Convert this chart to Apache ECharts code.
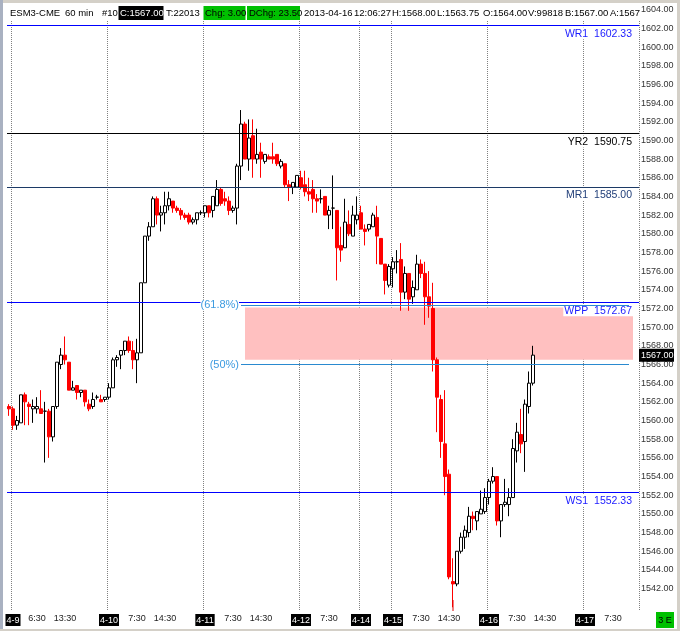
<!DOCTYPE html>
<html><head><meta charset="utf-8">
<script src="https://cdn.jsdelivr.net/npm/echarts@6/dist/echarts.min.js"></script>
<style>html,body{margin:0;padding:0;background:#fff}#c{width:680px;height:631px}</style>
</head><body><div id="c"></div>
<script>
// ---- data ----
const sessions = [['4-8',23,1],['4-9',0,24],['4-10',0,24],['4-11',0,24],['4-12',0,15],['4-14',16,8],['4-15',0,24],['4-16',0,24],['4-17',0,14]];
const openP = [1561.5,1561.25,1559.5,1559.75,1562.75,1561.75,1561.25,1561.25,1561.25,1561.0,
1561.0,1558.25,1561.5,1566.0,1567.0,1566.25,1563.25,1563.75,1563.0,1563.25,
1561.75,1561.5,1562.5,1562.25,1562.25,1562.5,1563.5,1566.5,1567.0,1567.5,
1568.5,1567.5,1566.5,1567.25,1574.75,1579.75,1580.75,1583.75,1582.0,1582.25,
1583.0,1583.5,1582.75,1582.5,1582.0,1582.0,1581.25,1581.5,1582.25,1582.25,
1583.0,1582.5,1583.0,1584.75,1583.75,1583.5,1582.5,1582.75,1587.25,1591.75,
1588.0,1590.5,1588.0,1588.75,1587.75,1588.25,1588.25,1588.5,1587.25,1587.5,
1585.25,1585.0,1585.0,1586.0,1585.25,1584.5,1584.75,1583.75,1583.75,1584.0,
1582.0,1582.75,1582.5,1578.75,1578.5,1581.0,1579.75,1581.5,1582.25,1580.5,
1580.5,1580.75,1581.75,1579.5,1576.75,1574.5,1576.25,1577.0,1577.25,1573.75,
1575.75,1573.25,1574.0,1576.75,1575.75,1573.25,1572.0,1566.5,1562.25,1557.5,
1554.25,1542.75,1542.5,1546.0,1547.5,1548.0,1549.75,1549.25,1550.0,1550.25,
1551.75,1553.5,1554.0,1549.25,1551.0,1551.0,1551.75,1556.75,1558.5,1557.75,
1561.5,1564.0];
const closeP = [1561.25,1559.5,1560.0,1562.75,1562.0,1561.5,1561.5,1561.5,1560.75,1561.0,
1558.25,1561.5,1566.25,1567.0,1566.5,1563.25,1563.5,1563.0,1563.25,1562.0,
1561.25,1562.25,1562.5,1562.0,1562.5,1563.5,1566.5,1566.75,1567.5,1568.5,
1567.5,1566.5,1567.25,1574.75,1579.75,1580.75,1583.75,1582.0,1582.25,1583.0,
1583.75,1582.75,1582.5,1582.0,1581.75,1581.25,1581.5,1582.25,1582.25,1583.0,
1582.25,1584.0,1584.75,1583.25,1583.5,1582.5,1582.75,1587.25,1591.75,1588.0,
1590.25,1588.0,1588.5,1588.0,1588.5,1588.0,1588.0,1587.5,1587.75,1585.25,
1585.0,1585.5,1586.25,1585.0,1584.5,1584.25,1583.75,1583.5,1583.75,1582.0,
1582.5,1582.75,1578.5,1578.25,1581.25,1580.0,1582.0,1582.0,1580.5,1580.25,
1581.0,1582.0,1579.75,1576.75,1575.0,1576.5,1577.0,1577.0,1573.75,1575.75,
1573.0,1574.25,1576.75,1575.75,1573.25,1572.25,1566.5,1562.5,1557.75,1554.0,
1543.25,1542.5,1546.0,1547.5,1548.25,1549.75,1549.5,1550.25,1550.5,1551.75,
1553.5,1554.0,1549.25,1551.0,1551.25,1551.75,1557.0,1558.75,1557.5,1561.75,
1564.0,1567.0];
const lowP = [1560.5,1559.0,1559.0,1559.75,1559.5,1559.5,1559.75,1560.75,1560.75,1555.5,
1556.0,1557.75,1561.25,1565.5,1566.0,1563.25,1563.25,1562.25,1562.5,1561.5,
1561.0,1561.25,1562.25,1562.0,1562.0,1562.25,1563.5,1565.75,1565.5,1567.0,
1567.25,1565.5,1564.0,1567.25,1574.75,1579.25,1580.75,1581.0,1580.25,1581.0,
1582.5,1582.25,1582.25,1581.5,1581.5,1581.0,1581.0,1581.0,1582.0,1581.75,
1581.75,1581.75,1583.0,1583.0,1583.0,1582.0,1582.25,1581.0,1585.75,1588.0,
1586.75,1586.0,1587.5,1586.0,1587.5,1588.0,1587.5,1587.25,1587.0,1585.0,
1583.5,1584.25,1585.0,1584.75,1584.0,1583.5,1582.25,1582.25,1583.25,1582.0,
1580.5,1580.5,1575.0,1577.0,1578.5,1579.75,1579.75,1581.0,1580.5,1578.75,
1580.25,1580.75,1576.75,1576.75,1573.5,1574.25,1574.25,1575.75,1571.75,1573.0,
1571.75,1572.5,1574.0,1575.25,1570.25,1571.0,1565.25,1558.75,1556.0,1552.0,
1543.0,1540.0,1542.25,1545.75,1546.25,1547.5,1548.25,1548.25,1550.0,1550.0,
1551.0,1553.25,1548.75,1547.5,1550.75,1549.75,1551.75,1555.5,1556.5,1554.5,
1560.75,1563.75];
const highP = [1561.75,1561.5,1560.5,1562.75,1563.0,1562.0,1562.25,1562.5,1563.25,1562.0,
1561.25,1561.5,1566.25,1567.75,1569.0,1566.25,1564.25,1563.75,1563.25,1563.25,
1562.25,1563.0,1562.75,1562.75,1562.5,1564.0,1566.75,1567.0,1567.5,1568.5,
1569.0,1568.5,1568.75,1574.75,1579.75,1581.25,1584.0,1584.0,1583.0,1584.5,
1584.5,1583.5,1583.0,1582.75,1582.25,1582.25,1581.75,1582.25,1582.5,1583.0,
1583.0,1584.0,1585.75,1585.0,1584.5,1584.0,1583.0,1587.5,1593.25,1592.0,
1592.25,1592.25,1591.25,1589.75,1588.5,1588.5,1589.75,1588.5,1588.0,1587.5,
1585.75,1585.5,1586.25,1586.75,1586.75,1586.0,1585.75,1584.25,1584.75,1584.0,
1583.0,1586.25,1582.5,1580.75,1583.75,1582.5,1583.0,1584.0,1583.0,1581.0,
1581.0,1582.25,1583.0,1579.5,1576.75,1576.75,1577.5,1578.25,1579.0,1576.5,
1575.75,1575.0,1577.75,1577.25,1577.0,1576.0,1574.75,1566.75,1562.75,1563.25,
1554.75,1545.25,1546.0,1548.0,1548.75,1550.75,1550.25,1550.25,1552.5,1552.75,
1553.75,1555.0,1554.0,1551.0,1553.75,1552.75,1558.0,1559.75,1561.25,1562.25,
1565.25,1568.0];
const pivotNames = ['WR1','YR2','MR1','WPP','WS1'];
const pivotValues = [1602.33,1590.75,1585.00,1572.67,1552.33];
const fibLabels = ['(61.8%)','(50%)'];
const fibValues = [1572.35,1566.0];
const fibSpan = ['4-11 9:30','4-17 11:30'];
const zoneSpan = ['4-11 10:30','4-17 12:30'];
const zoneRange = [1566.5,1572.1];
const lastPrice = 1567.00;
const yTicks = [1542,1544,1546,1548,1550,1552,1554,1556,1558,1560,1562,1564,1566,1568,1570,1572,1574,1576,1578,1580,1582,1584,1586,1588,1590,1592,1594,1596,1598,1600,1602,1604];
const xTicks = [['4-9 0:30','4-9','d'],['4-9 6:30','6:30','t'],['4-9 13:30','13:30','t'],
['4-10 0:30','4-10','d'],['4-10 7:30','7:30','t'],['4-10 14:30','14:30','t'],
['4-11 0:30','4-11','d'],['4-11 7:30','7:30','t'],['4-11 14:30','14:30','t'],
['4-12 0:30','4-12','d'],['4-12 7:30','7:30','t'],['4-14 16:30','4-14','d'],
['4-15 0:30','4-15','d'],['4-15 7:30','7:30','t'],['4-15 14:30','14:30','t'],
['4-16 0:30','4-16','d'],['4-16 7:30','7:30','t'],['4-16 14:30','14:30','t'],
['4-17 0:30','4-17','d'],['4-17 7:30','7:30','t']];
const headerText = ['ESM3-CME','60 min','#10','C:1567.00','T:22013','Chg: 3.00','DChg: 23.50','2013-04-16','12:06:27','H:1568.00','L:1563.75','O:1564.00','V:99818','B:1567.00','A:1567'];
const cursorTime = '4-15 15:30';

// ---- styles / layout ----
const FONT = '"Liberation Sans", Arial, sans-serif';
const headerX = [10,65,102,120,166,205,249,304,354,392,437,483,528,565,610];
const headerBoxes = {3:[118.5,45,'#000','#fff'],5:[203.5,42,'#00c000','#000'],6:[247,53,'#00c000','#000']};
const pivotLineColors = ['#0000ff','#000000','#1c3a66','#0000ff','#0000ff'];
const pivotTextColors = ['#1a1aff','#000000','#23407a','#1a1aff','#1a1aff'];

const categories = [];
sessions.forEach(([d, h0, n]) => { for (let k = 0; k < n; k++) categories.push(d + ' ' + (h0 + k) + ':30'); });
const dayStart = new Set();
categories.forEach((c, i) => { if (i > 0 && c.split(' ')[0] !== categories[i-1].split(' ')[0]) dayStart.add(i); });
const tickMap = {}; xTicks.forEach(([k, t, s]) => tickMap[k] = [t, s]);

const candles = openP.map((o, i) => [o, closeP[i], lowP[i], highP[i]]);

const chart = echarts.init(document.getElementById('c'), null, {renderer: 'canvas'});
const option = {
  animation: false,
  backgroundColor: '#fff',
  grid: {left: 7, top: 5, width: 632, height: 606, containLabel: false, outerBoundsMode: 'none'},
  xAxis: {
    type: 'category', data: categories, boundaryGap: true,
    axisLine: {show: false}, axisTick: {show: false},
    axisLabel: {
      interval: (i, v) => !!tickMap[v], margin: 3, fontSize: 9, fontFamily: FONT, color: '#222',
      formatter: v => { const t = tickMap[v]; return t ? '{' + t[1] + '|' + t[0] + '}' : ''; },
      rich: {d: {backgroundColor: '#000', color: '#fff', fontSize: 9, fontFamily: FONT, padding: [2, 1, 1, 1]},
             t: {color: '#222', fontSize: 9, fontFamily: FONT}}
    },
    splitLine: {show: true, interval: (i) => dayStart.has(i), lineStyle: {color: '#808080', width: 1, type: [1, 1]}}
  },
  yAxis: {
    type: 'value', position: 'right', min: 1539.6, max: 1604.5,
    axisLine: {show: false}, axisTick: {show: false}, splitLine: {show: false},
    axisLabel: {customValues: yTicks, formatter: v => v.toFixed(2), fontSize: 9, fontFamily: FONT, color: '#333', margin: 2}
  },
  series: [
    {
      type: 'line', data: [], z: 1, silent: true,
      markArea: {silent: true, itemStyle: {color: '#ffc0c0', opacity: 1},
        data: [[{coord: [zoneSpan[0], zoneRange[1]]}, {coord: [zoneSpan[1], zoneRange[0]]}]]}
    },
    {
      type: 'candlestick', z: 2, barWidth: 3, data: candles,
      itemStyle: {color: '#ffffff', color0: '#ff0000', borderColor: '#000000', borderColor0: '#ff0000', borderColorDoji: '#000000', borderWidth: 1},
      markLine: {
        silent: true, symbol: ['none', 'none'], z: 3,
        label: {show: true, position: 'insideEndBottom', distance: [6, 2], backgroundColor: '#fff', padding: [1, 1, 0, 1],
                fontSize: 10.5, fontFamily: FONT, formatter: p => p.name + '  ' + p.value.toFixed(2)},
        lineStyle: {type: 'solid', width: 1},
        data: pivotValues.map((v, i) => ({yAxis: v, name: pivotNames[i],
          lineStyle: {color: pivotLineColors[i], type: 'solid', width: 1},
          label: {color: pivotTextColors[i]}}))
      }
    },
    {
      type: 'line', data: [], z: 4, silent: true,
      markLine: {
        silent: true, symbol: ['none', 'none'],
        lineStyle: {color: '#2a8ad0', type: 'solid', width: 1},
        label: {show: true, position: 'start', distance: 2, color: '#3d9be0', backgroundColor: '#fff',
                fontSize: 11, fontFamily: FONT, formatter: p => p.name},
        data: fibValues.map((v, i) => [{coord: [fibSpan[0], v], name: fibLabels[i]}, {coord: [fibSpan[1], v]}])
      }
    }
  ]
};
chart.setOption(option);

// ---- overlay graphics (header, frame, markers) ----
const g = [];
g.push({type: 'rect', shape: {x: 3, y: 3, width: 637, height: 18}, style: {fill: '#fff'}, z: 90});
headerText.forEach((t, i) => {
  const b = headerBoxes[i];
  if (b) g.push({type: 'rect', shape: {x: b[0], y: 6, width: b[1], height: 14}, style: {fill: b[2]}, z: 95});
  g.push({type: 'text', x: headerX[i], y: 13.5, style: {text: t, fill: b ? b[3] : '#000', font: '9.5px ' + FONT, verticalAlign: 'middle'}, z: 100});
});
const ly = chart.convertToPixel({yAxisIndex: 0}, lastPrice);
g.push({type: 'rect', shape: {x: 639, y: ly - 6.5, width: 35, height: 13}, style: {fill: '#000'}, z: 95});
g.push({type: 'text', x: 641, y: ly, style: {text: lastPrice.toFixed(2), fill: '#fff', font: '9px ' + FONT, verticalAlign: 'middle'}, z: 100});
const cx = chart.convertToPixel({xAxisIndex: 0}, cursorTime);
g.push({type: 'line', shape: {x1: cx, y1: 600, x2: cx, y2: 611}, style: {stroke: '#e00000', lineWidth: 1}, z: 50});
g.push({type: 'rect', shape: {x: 656, y: 612, width: 18, height: 16}, style: {fill: '#00c000'}, z: 95});
g.push({type: 'text', x: 665, y: 620.5, style: {text: '3 E', fill: '#000', font: '9px ' + FONT, align: 'center', verticalAlign: 'middle'}, z: 100});
g.push({type: 'rect', shape: {x: 0, y: 0, width: 680, height: 3}, style: {fill: '#d4d0c8'}, z: 110});
g.push({type: 'rect', shape: {x: 0, y: 0, width: 3, height: 631}, style: {fill: '#a9b1c1'}, z: 110});
g.push({type: 'rect', shape: {x: 0, y: 629, width: 680, height: 2}, style: {fill: '#d4d0c8'}, z: 110});
g.push({type: 'rect', shape: {x: 677, y: 0, width: 3, height: 631}, style: {fill: '#d4d0c8'}, z: 110});
chart.setOption({graphic: g});
</script></body></html>
